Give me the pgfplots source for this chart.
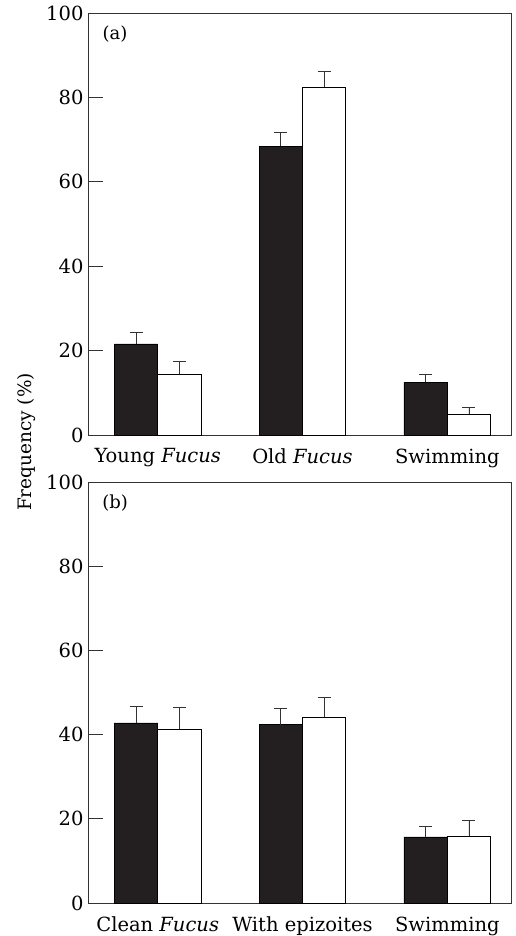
\documentclass[border=0pt]{standalone}
\usepackage{pgfplots}
\pgfplotsset{compat=1.18}
\usepackage{fontspec}
\setmainfont{DejaVu Serif}
\definecolor{barblack}{HTML}{231F20}
\definecolor{axgray}{HTML}{333333}
\pgfplotsset{
  panel/.style={
    scale only axis,
    width=423pt,
    xmin=-0.4813, xmax=2.440,
    ymin=0, ymax=100,
    ytick={0,20,40,60,80,100},
    xtick={0,1,2},
    ytick pos=left,
    xtick pos=bottom,
    tick align=inside,
    major tick length=15pt,
    x tick style={draw=none},
    y tick style={line width=0.8pt, color=axgray},
    axis line style={line width=0.8pt, color=axgray},
    ybar=0pt,
    bar width=43.3pt,
    tick label style={font=\fontsize{19.5}{22}\selectfont},
    /pgf/number format/assume math mode=true,
    yticklabel style={xshift=-1pt},
    xticklabel style={yshift=5pt},
  },
  blackbar/.style={fill=barblack, draw=black, line width=0.6pt,
    error bars/.cd, y dir=plus, y explicit,
    error bar style={line width=0.8pt, color=axgray},
    error mark options={rotate=90, mark size=6.5pt, line width=0.8pt, color=axgray}},
  whitebar/.style={fill=white, draw=black, line width=0.8pt,
    error bars/.cd, y dir=plus, y explicit,
    error bar style={line width=0.8pt, color=axgray},
    error mark options={rotate=90, mark size=6.5pt, line width=0.8pt, color=axgray}},
}
\begin{document}
\begin{tikzpicture}
\useasboundingbox (0pt,0pt) rectangle (515pt,-936pt);
% panel (a)
\begin{axis}[panel, height=422pt, at={(88pt,-435pt)}, anchor=south west,
  xticklabels={Young \textit{Fucus}, Old \textit{Fucus}, Swimming}]
\addplot[blackbar] coordinates {(0,21.6) +- (0,2.7) (1,68.4) +- (0,3.3) (2,12.5) +- (0,1.9)};
\addplot[whitebar] coordinates {(0,14.4) +- (0,3.1) (1,82.4) +- (0,3.8) (2,4.9) +- (0,1.7)};
\node[font=\fontsize{18}{20}\selectfont] at (rel axis cs:0.064,0.95) {(a)};
\end{axis}
% panel (b)
\begin{axis}[panel, height=421pt, at={(88pt,-903pt)}, anchor=south west,
  xticklabels={Clean \textit{Fucus}, With epizoites, Swimming}]
\addplot[blackbar] coordinates {(0,42.8) +- (0,3.8) (1,42.4) +- (0,3.9) (2,15.7) +- (0,2.5)};
\addplot[whitebar] coordinates {(0,41.3) +- (0,5.2) (1,44.1) +- (0,4.8) (2,15.9) +- (0,3.7)};
\node[font=\fontsize{18}{20}\selectfont] at (rel axis cs:0.064,0.95) {(b)};
\end{axis}
\node[rotate=90, font=\fontsize{18.5}{20}\selectfont] at (27pt,-442pt) {Frequency (\%)};
\end{tikzpicture}
\end{document}
